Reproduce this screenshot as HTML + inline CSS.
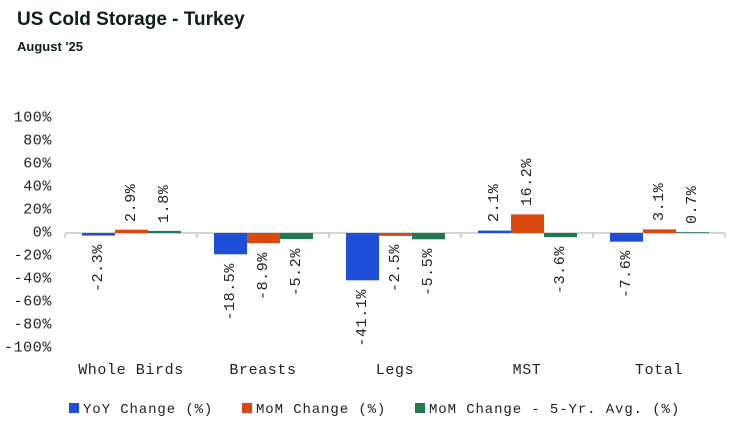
<!DOCTYPE html>
<html><head><meta charset="utf-8"><style>
body{margin:0;background:#fff;width:741px;height:429px;overflow:hidden}
.t{font-family:"Liberation Sans",sans-serif;fill:#0d1f17}
.m{font-family:"Liberation Mono",monospace;fill:#222;font-size:15px;letter-spacing:0.6px}
.l{font-family:"Liberation Mono",monospace;fill:#222;font-size:14px;letter-spacing:0.9px}
</style></head><body>
<svg width="741" height="429" xmlns="http://www.w3.org/2000/svg">
<text class="t" x="17" y="25" font-size="19" font-weight="bold">US Cold Storage - Turkey</text>
<text class="t" x="17" y="51" font-size="13" font-weight="bold">August '25</text>
<g class="m" text-anchor="end" dominant-baseline="central">
<text x="52" y="118">100%</text><text x="52" y="141">80%</text><text x="52" y="164">60%</text>
<text x="52" y="187">40%</text><text x="52" y="210">20%</text><text x="52" y="233">0%</text>
<text x="52" y="256">-20%</text><text x="52" y="279">-40%</text><text x="52" y="302">-60%</text>
<text x="52" y="325">-80%</text><text x="52" y="348">-100%</text>
</g>
<g stroke="#bbb" stroke-width="1.2">
<line x1="65" y1="233" x2="725" y2="233"/>
<line x1="65" y1="233" x2="65" y2="238"/><line x1="197" y1="233" x2="197" y2="238"/>
<line x1="329" y1="233" x2="329" y2="238"/><line x1="461" y1="233" x2="461" y2="238"/>
<line x1="593" y1="233" x2="593" y2="238"/><line x1="725" y1="233" x2="725" y2="238"/>
</g>
<g fill="#1f4fd8">
<rect x="82" y="233" width="33" height="2.6"/>
<rect x="214" y="233" width="33" height="21.3"/>
<rect x="346" y="233" width="33" height="47.3"/>
<rect x="478" y="230.6" width="33" height="2.4"/>
<rect x="610" y="233" width="33" height="8.7"/>
</g>
<g fill="#d9480f">
<rect x="115" y="229.7" width="33" height="3.3"/>
<rect x="247" y="233" width="33" height="10.2"/>
<rect x="379" y="233" width="33" height="2.9"/>
<rect x="511" y="214.4" width="33" height="18.6"/>
<rect x="643" y="229.4" width="33" height="3.6"/>
</g>
<g fill="#1e7a4f">
<rect x="148" y="230.9" width="33" height="2.1"/>
<rect x="280" y="233" width="33" height="6"/>
<rect x="412" y="233" width="33" height="6.3"/>
<rect x="544" y="233" width="33" height="4.1"/>
<rect x="676" y="232.2" width="33" height="0.8"/>
</g>
<g class="m" dominant-baseline="central">
<text text-anchor="end" transform="translate(98.5,244) rotate(-90)">-2.3%</text>
<text text-anchor="start" transform="translate(131.5,222) rotate(-90)">2.9%</text>
<text text-anchor="start" transform="translate(164.5,223) rotate(-90)">1.8%</text>
<text text-anchor="end" transform="translate(230.5,263) rotate(-90)">-18.5%</text>
<text text-anchor="end" transform="translate(263.5,252) rotate(-90)">-8.9%</text>
<text text-anchor="end" transform="translate(296.5,248) rotate(-90)">-5.2%</text>
<text text-anchor="end" transform="translate(362.5,289) rotate(-90)">-41.1%</text>
<text text-anchor="end" transform="translate(395.5,244) rotate(-90)">-2.5%</text>
<text text-anchor="end" transform="translate(428.5,248) rotate(-90)">-5.5%</text>
<text text-anchor="start" transform="translate(494.5,222) rotate(-90)">2.1%</text>
<text text-anchor="start" transform="translate(527.5,206) rotate(-90)">16.2%</text>
<text text-anchor="end" transform="translate(560.5,246) rotate(-90)">-3.6%</text>
<text text-anchor="end" transform="translate(626.5,250) rotate(-90)">-7.6%</text>
<text text-anchor="start" transform="translate(659.5,221) rotate(-90)">3.1%</text>
<text text-anchor="start" transform="translate(692.5,224) rotate(-90)">0.7%</text>
</g>
<g class="m" text-anchor="middle">
<text x="131" y="374">Whole Birds</text><text x="263" y="374">Breasts</text>
<text x="395" y="374">Legs</text><text x="527" y="374">MST</text><text x="659" y="374">Total</text>
</g>
<rect x="69" y="403" width="10" height="10" fill="#1f4fd8"/>
<rect x="242" y="403" width="10" height="10" fill="#d9480f"/>
<rect x="415" y="403" width="10" height="10" fill="#1e7a4f"/>
<g class="l">
<text x="83" y="413">YoY Change (%)</text>
<text x="256" y="413">MoM Change (%)</text>
<text x="429" y="413">MoM Change - 5-Yr. Avg. (%)</text>
</g>
</svg>
</body></html>
